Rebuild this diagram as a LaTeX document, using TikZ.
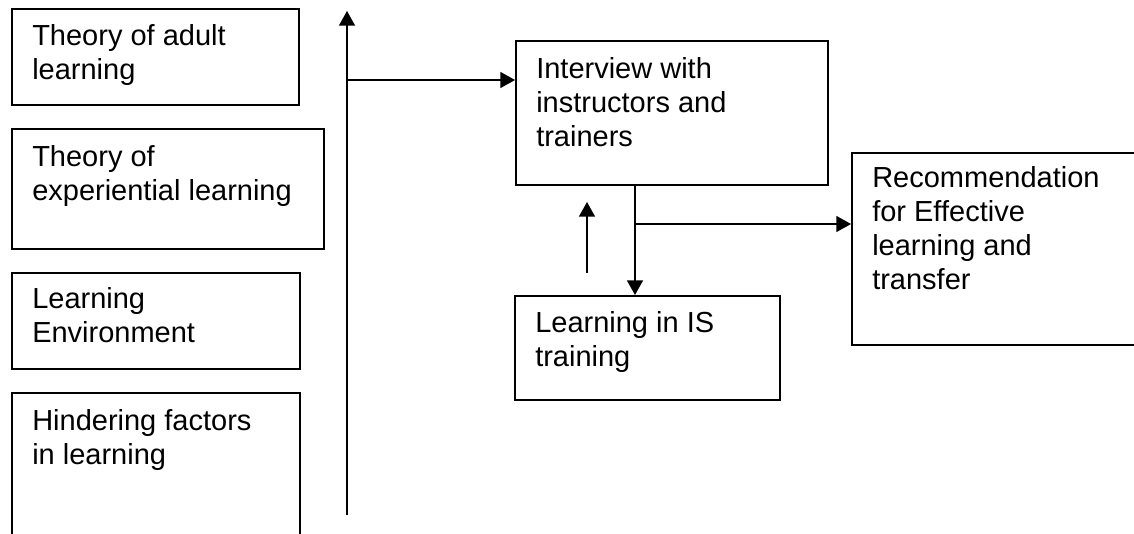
\documentclass[tikz,border=0pt]{standalone}
\usepackage{fontspec}
\setmainfont{Liberation Sans}
\usetikzlibrary{arrows.meta}
\begin{document}
\begin{tikzpicture}[x=0.75pt,y=-0.75pt,
  box/.style 2 args={draw,line width=1.4pt,inner sep=0pt,anchor=north west,
    minimum width=#1*0.75pt,minimum height=#2*0.75pt},
  txt/.style={anchor=north west,inner sep=0pt,align=left,
    font=\fontsize{21.75pt}{25.5pt}\selectfont},
  arr/.style={line width=1.05pt,-{Triangle[length=11pt,width=12pt]}}]
\clip (0,0) rectangle (1134,533);

% left column of boxes
\node[box={287}{96}]  (adult) at (11,8) {};
\node[box={312}{120}] (exper) at (11,128) {};
\node[box={288}{96}]  (env)   at (11,272) {};
\node[box={288}{170}] (hind)  at (11,392) {};

% right-hand boxes
\node[box={312}{144}] (intv)  at (515,40) {};
\node[box={265}{104}] (isl)   at (514,295) {};
\node[box={300}{192}] (rec)   at (851,152) {};

% box texts
\node[txt] (tadult) at ([shift={(21,13)}]adult.north west) {\strut Theory of adult\\learning};
\node[txt] (texper) at ([shift={(21,14)}]exper.north west) {\strut Theory of\\experiential learning};
\node[txt] (tenv)   at ([shift={(21,12)}]env.north west)   {\strut Learning\\Environment};
\node[txt] (thind)  at ([shift={(21,14)}]hind.north west)  {\strut Hindering factors\\in learning};
\node[txt] (tintv)  at ([shift={(21,14)}]intv.north west)  {\strut Interview with\\instructors and\\trainers};
\node[txt] (tisl)   at ([shift={(21,13)}]isl.north west)   {\strut Learning in IS\\training};
\node[txt] (trec)   at ([shift={(21,11)}]rec.north west)   {\strut Recommendation\\for Effective\\learning and\\transfer};

% connectors
\coordinate (vbot) at (347,515);
\coordinate (vtop) at (347,11);
\draw[arr] (vbot) -- (vtop);

\coordinate (join) at (347,80);
\draw[arr] (join) -- (join -| intv.west);

\coordinate (drop) at (635,0);
\draw[arr] (intv.south -| drop) -- (isl.north -| drop);

\coordinate (branch) at (635,224);
\draw[arr] (branch) -- (branch -| rec.west);

\coordinate (fbbot) at (587,273);
\coordinate (fbtop) at (587,202);
\draw[arr] (fbbot) -- (fbtop);
\end{tikzpicture}
\end{document}
